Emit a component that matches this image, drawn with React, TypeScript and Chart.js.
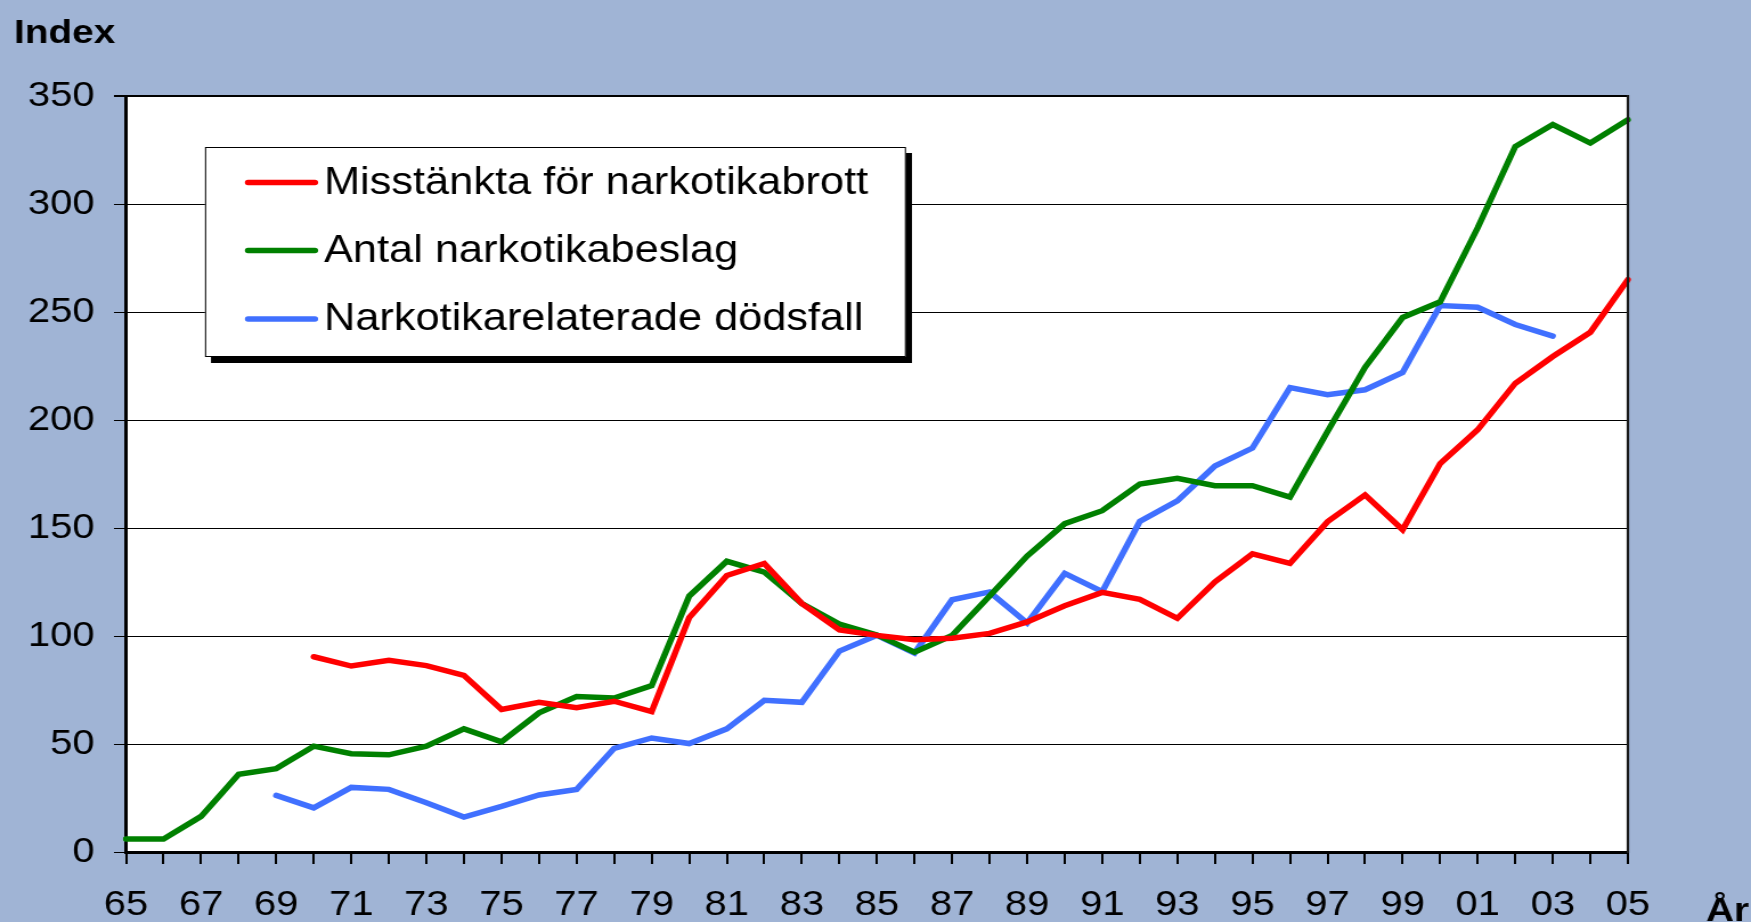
import React, { useEffect, useRef } from "react";
import { Chart, registerables } from "chart.js";

Chart.register(...registerables);

// ---- data ----
const years = [
  "65", "66", "67", "68", "69", "70", "71", "72", "73", "74",
  "75", "76", "77", "78", "79", "80", "81", "82", "83", "84",
  "85", "86", "87", "88", "89", "90", "91", "92", "93", "94",
  "95", "96", "97", "98", "99", "00", "01", "02", "03", "04", "05",
];

const misstankta = [
  null, null, null, null, null, 90.4, 86.1, 88.7, 86.3, 81.8,
  66, 69.3, 66.8, 69.8, 65, 108.5, 128, 133.6, 115, 102.8,
  100.3, 98.3, 99, 101.2, 106.5, 114, 120.2, 117, 108.2, 125,
  138, 133.6, 152.9, 165.3, 149.2, 179.8, 195.5, 217, 229.4, 240.6, 265,
];

const beslag = [
  6, 6, 16.5, 36, 38.6, 49, 45.5, 45, 49, 57,
  51, 64.4, 72, 71.3, 77, 118.5, 134.6, 129.6, 115, 105.5,
  100.5, 92.5, 100.2, 118.5, 137, 152, 158, 170.3, 173, 169.6,
  169.6, 164.3, 194.7, 224.4, 247.5, 254.7, 289, 326.6, 336.8, 328.2, 339,
];

const dodsfall = [
  null, null, null, null, 26.2, 20.4, 29.9, 29, 22.8, 16.2,
  21.1, 26.4, 29, 48, 52.8, 50.2, 57, 70.2, 69.3, 93,
  100.3, 92.1, 116.8, 120.4, 106, 129, 120.5, 153, 162.6, 178.7,
  187, 215, 211.7, 214, 222, 253, 252.2, 244.2, 238.8, null, null,
];

const seriesNames = [
  "Misstänkta för narkotikabrott",
  "Antal narkotikabeslag",
  "Narkotikarelaterade dödsfall",
];
const seriesColors = ["#FF0000", "#008000", "#4070FF"];

const yMin = 0;
const yMax = 350;
const yStep = 50;
const yTitle = "Index";
const xTitle = "År";

// ---- layout / style ----
const OUT_W = 1751;
const OUT_H = 922;
const SX = 1.14; // horizontal stretch of the original image
const W = Math.round(OUT_W / SX);
const H = OUT_H;
const BG = "#A0B4D5";
const FONT = "'Liberation Sans', Arial, sans-serif";

const decorPlugin = {
  id: "decor",
  beforeDraw(chart: any) {
    const { ctx, chartArea: a } = chart;
    ctx.save();
    ctx.fillStyle = "#ffffff";
    ctx.fillRect(a.left, a.top, a.right - a.left, a.bottom - a.top);
    ctx.restore();
  },
  afterDatasetsDraw(chart: any) {
    const { ctx, chartArea: a } = chart;
    ctx.save();
    ctx.strokeStyle = "#1a1a1a";
    ctx.lineWidth = 2.2;
    ctx.beginPath();
    ctx.moveTo(a.right, a.top - 1);
    ctx.lineTo(a.right, a.bottom + 1);
    ctx.stroke();
    ctx.restore();
  },
  afterDraw(chart: any) {
    const { ctx } = chart;
    ctx.save();
    // legend box
    const x0 = 205 / SX, x1 = 906 / SX, y0 = 147, y1 = 357;
    ctx.fillStyle = "#000";
    ctx.fillRect(x0 + 6 / SX, y0 + 6, x1 - x0, y1 - y0);
    ctx.fillStyle = "#fff";
    ctx.fillRect(x0, y0, x1 - x0, y1 - y0);
    ctx.strokeStyle = "#000";
    ctx.lineWidth = 1;
    ctx.strokeRect(x0 + 0.5, y0 + 0.5, x1 - x0 - 1, y1 - y0 - 1);
    const rows = [182.5, 250.5, 319];
    chart.data.datasets.forEach((ds: any, i: number) => {
      const y = rows[i];
      ctx.strokeStyle = ds.borderColor;
      ctx.lineWidth = 5.5;
      ctx.lineCap = "round";
      ctx.beginPath();
      ctx.moveTo(248 / SX, y);
      ctx.lineTo(315 / SX, y);
      ctx.stroke();
      ctx.fillStyle = "#000";
      ctx.font = `38px ${FONT}`;
      ctx.textBaseline = "middle";
      ctx.textAlign = "left";
      ctx.fillText(ds.label, 324 / SX, y + 1);
    });
    // axis titles
    ctx.fillStyle = "#000";
    ctx.font = `bold 34px ${FONT}`;
    ctx.textBaseline = "alphabetic";
    ctx.textAlign = "left";
    ctx.fillText(yTitle, 14 / SX, 43);
    ctx.fillText(xTitle, 1706 / SX, 921);
    ctx.restore();
  },
};

export default function App() {
  const ref = useRef<HTMLCanvasElement | null>(null);

  useEffect(() => {
    if (!ref.current) return;
    const chart = new Chart(ref.current, {
      type: "line",
      data: {
        labels: years,
        datasets: [misstankta, beslag, dodsfall].map((d, i) => ({
          label: seriesNames[i],
          data: d,
          borderColor: seriesColors[i],
          backgroundColor: seriesColors[i],
          borderWidth: 5.5,
          pointRadius: 0,
          pointHoverRadius: 0,
          tension: 0,
          spanGaps: false,
          borderCapStyle: "round",
          borderJoinStyle: "miter",
        })),
      },
      plugins: [decorPlugin],
      options: {
        animation: false,
        responsive: false,
        devicePixelRatio: 1,
        layout: { padding: { top: 96, right: W - Math.round(1628 / SX), left: 0, bottom: 0 } },
        plugins: {
          legend: { display: false },
          tooltip: { enabled: false },
        },
        scales: {
          x: {
            type: "category",
            offset: false,
            afterFit: (s: any) => {
              s.height = OUT_H - 852;
            },
            grid: {
              drawOnChartArea: false,
              drawTicks: true,
              tickLength: 12,
              color: "#000",
              lineWidth: 2,
            },
            border: { display: true, color: "#000", width: 3 },
            ticks: {
              autoSkip: false,
              maxRotation: 0,
              minRotation: 0,
              padding: 20,
              color: "#000",
              font: { size: 35, family: FONT },
              callback: (_v: any, i: number) => (i % 2 === 0 ? years[i] : ""),
            },
          },
          y: {
            min: yMin,
            max: yMax,
            afterFit: (s: any) => {
              s.width = 126 / SX;
            },
            grid: {
              drawOnChartArea: true,
              drawTicks: true,
              tickLength: 12 / SX,
              color: "#000",
              lineWidth: (c: any) => (c.tick && c.tick.value === yMax ? 2 : 1),
            },
            border: { display: true, color: "#000", width: 3 },
            ticks: {
              stepSize: yStep,
              padding: 17,
              color: "#000",
              font: { size: 35, family: FONT },
            },
          },
        },
      },
    });
    return () => chart.destroy();
  }, []);

  return (
    <div
      style={{
        position: "fixed",
        left: 0,
        top: 0,
        width: OUT_W,
        height: OUT_H,
        background: BG,
        overflow: "hidden",
      }}
    >
      <canvas
        ref={ref}
        width={W}
        height={H}
        style={{ display: "block", width: `${OUT_W}px`, height: `${OUT_H}px` }}
      />
    </div>
  );
}
